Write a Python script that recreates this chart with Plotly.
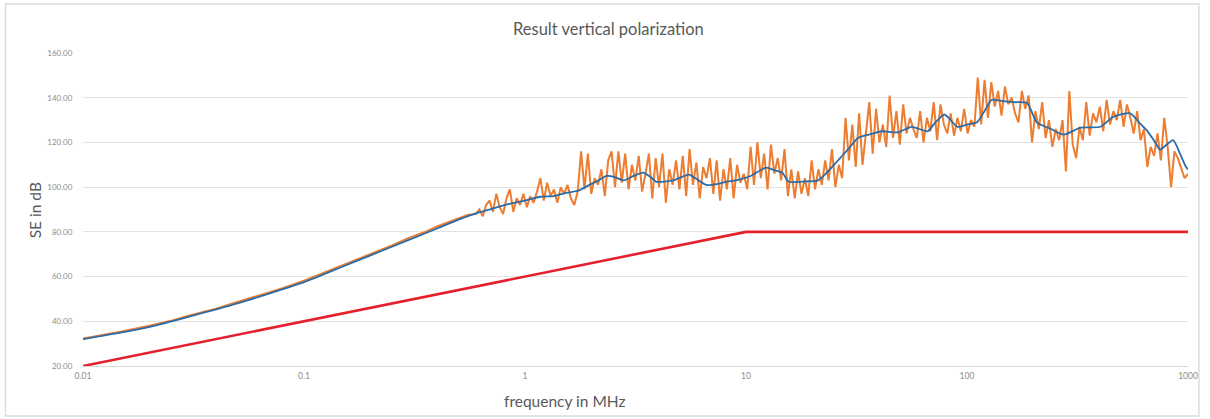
import numpy as np
import plotly.graph_objects as go

# ---------------- data ----------------
y_ticks = [20, 40, 60, 80, 100, 120, 140, 160]
x_ticks = [0.01, 0.1, 1, 10, 100, 1000]
x_tick_labels = ["0.01", "0.1", "1", "10", "100", "1000"]

# limit line (red)
limit_freq = [0.01, 10, 1000]
limit_db = [20, 80, 80]

# smoothed curve (blue)
smooth_freq = [0.01, 0.015, 0.02, 0.03, 0.05, 0.07, 0.1, 0.15, 0.2, 0.3, 0.4, 0.5, 0.6, 0.7,
               0.83, 1.0, 1.17, 1.35, 1.55, 1.75, 1.96, 2.15, 2.34, 2.55, 2.79, 3.1, 3.43, 3.7,
               3.93, 4.3, 4.69, 5.1, 5.53, 6.0, 6.59, 7.5, 8.2, 9.0, 10.5, 12.3, 13.5, 14.6,
               15.6, 18, 21.2, 23.5, 26.1, 29, 32.1, 36, 41.2, 48.6, 56.2, 66.4, 72, 79.1,
               90.5, 100, 111, 120, 129, 145, 163, 187, 207, 240, 274, 327, 402, 460, 548,
               600, 647, 700, 748, 800, 857, 920, 980, 1000]
smooth_db = [32, 35, 37.5, 42, 48, 52.5, 57.5, 64.5, 69.5, 76.5, 81.5, 85.5, 88.3, 90.2,
             92.3, 94, 95.7, 96, 97.5, 98.5, 101, 103, 105, 104.5, 103, 105, 106.5, 104.5,
             102.4, 102.5, 103, 104.5, 105.6, 103.5, 101, 101.5, 102.5, 103, 105, 108.7, 107.5, 106.5,
             102.4, 102.5, 103, 107, 112, 117, 122, 123.5, 125, 124.5, 127, 125, 129, 132.5,
             127, 128, 129, 134, 139, 138.5, 138, 137.6, 129, 126, 123.5, 126.6, 127, 131.5, 133,
             129, 125.7, 121, 116.8, 119, 121, 115, 109, 108]

# measured curve (orange), low-frequency part
meas_low_freq = [0.01, 0.012, 0.015, 0.02, 0.025, 0.03, 0.04, 0.05, 0.06, 0.07, 0.08, 0.1,
                 0.12, 0.15, 0.18, 0.2, 0.25, 0.3, 0.35, 0.4, 0.45, 0.5, 0.55]
meas_low_db = [32.3, 33.6, 35.4, 38.0, 40.2, 42.5, 45.6, 48.6, 50.9, 53.1, 54.8, 58.2,
               61.3, 65.3, 68.3, 70.3, 73.9, 77.4, 79.8, 82.4, 84.3, 86.3, 87.6]

# measured curve (orange), sweep from 0.6 MHz to 1000 MHz (log-spaced points)
meas_sweep_start = 0.6
meas_sweep_stop = 1000
meas_sweep_db = [
    88, 90, 87, 92, 94, 89, 97, 91, 88, 95,
    99, 89, 95, 92, 97, 91, 96, 93, 98, 104,
    94, 102, 96, 99, 93, 100, 97, 101, 95, 92,
    98, 116, 99, 115, 97, 104, 101, 108, 96, 112,
    116, 100, 116, 102, 115, 99, 110, 103, 114, 98,
    106, 115, 95, 113, 100, 115, 93, 108, 101, 112,
    99, 114, 96, 117, 101, 111, 95, 109, 104, 113,
    97, 112, 94, 108, 99, 113, 95, 110, 102, 106,
    99, 118, 101, 120, 104, 115, 99, 119, 106, 113,
    103, 117, 96, 108, 95, 107, 97, 104, 96, 112,
    99, 108, 101, 112, 103, 117, 100, 110, 104, 131,
    112, 128, 109, 133, 110, 125, 138, 115, 135, 120,
    128, 118, 141, 122, 134, 119, 137, 124, 131, 126,
    122, 134, 120, 131, 125, 138, 121, 137, 128, 124,
    133, 123, 131, 125, 135, 124, 130, 127, 149, 128,
    148, 131, 147, 136, 143, 132, 145, 137, 140, 133,
    129, 143, 135, 141, 120, 134, 126, 138, 122, 130,
    118, 126, 121, 130, 107, 143, 119, 113, 127, 121,
    138, 123, 133, 129, 136, 125, 139, 128, 134, 130,
    139, 127, 137, 131, 124, 134, 121, 126, 109, 118,
    114, 124, 112, 131, 118, 100, 116, 113, 108, 104,
    106,
]

# ---------------- build ----------------
sweep_freq = np.logspace(np.log10(meas_sweep_start), np.log10(meas_sweep_stop), len(meas_sweep_db))
meas_freq = list(meas_low_freq) + list(sweep_freq)
meas_db = list(meas_low_db) + list(meas_sweep_db)

FONT = "Lato, 'Open Sans', sans-serif"

fig = go.Figure()
fig.add_trace(go.Scatter(x=limit_freq, y=limit_db, mode="lines",
                         line=dict(color="#E3202C", width=2.6), hoverinfo="skip"))
fig.add_trace(go.Scatter(x=meas_freq, y=meas_db, mode="lines",
                         line=dict(color="#ED7D31", width=2.0), hoverinfo="skip"))
fig.add_trace(go.Scatter(x=smooth_freq, y=smooth_db, mode="lines", line_shape="spline",
                         line=dict(color="#2A6CA8", width=1.8, smoothing=0.6), hoverinfo="skip"))

fig.update_layout(
    width=1210, height=419,
    margin=dict(l=83, r=15, t=53, b=53),
    paper_bgcolor="white", plot_bgcolor="white",
    showlegend=False,
    font=dict(family=FONT, color="#7f7f7f"),
)
fig.update_xaxes(type="log", range=[-2, 3], tickvals=x_ticks, ticktext=x_tick_labels,
                 showgrid=False, zeroline=False, showline=True, linecolor="#d9d9d9", linewidth=1,
                 ticks="outside", ticklen=2, tickcolor="rgba(0,0,0,0)",
                 tickfont=dict(size=8.5, color="#8c8c8c", family=FONT))
fig.update_yaxes(range=[20, 160], tickvals=y_ticks, tickformat=".2f",
                 showgrid=True, gridcolor="#e3e3e3", gridwidth=1, zeroline=False,
                 showline=False, ticks="outside", ticklen=8, tickcolor="rgba(0,0,0,0)",
                 tickfont=dict(size=8, color="#8c8c8c", family=FONT))

fig.add_annotation(text="Result vertical polarization", xref="paper", yref="paper",
                   x=(612 - 83) / 1112, y=(366 - 29) / 313, showarrow=False,
                   xanchor="center", yanchor="middle",
                   font=dict(size=16.5, color="#595959", family=FONT))
fig.add_annotation(text="SE in dB", xref="paper", yref="paper",
                   x=(35 - 83) / 1112, y=(366 - 210) / 313, showarrow=False, textangle=-90,
                   xanchor="center", yanchor="middle",
                   font=dict(size=15.5, color="#595959", family=FONT))
fig.add_annotation(text="frequency in MHz", xref="paper", yref="paper",
                   x=(568 - 83) / 1112, y=(366 - 401) / 313, showarrow=False,
                   xanchor="center", yanchor="middle",
                   font=dict(size=15.5, color="#595959", family=FONT))

# outer chart frame
fig.add_shape(type="rect", xref="paper", yref="paper",
              x0=(5 - 83) / 1112, x1=(1206 - 83) / 1112,
              y0=(366 - 416) / 313, y1=(366 - 4) / 313,
              line=dict(color="#dcdcdc", width=1.5), layer="below")

fig.write_html("out.html", config={"displayModeBar": False},
               post_script="document.body.style.margin='0';document.body.style.overflow='hidden';")
